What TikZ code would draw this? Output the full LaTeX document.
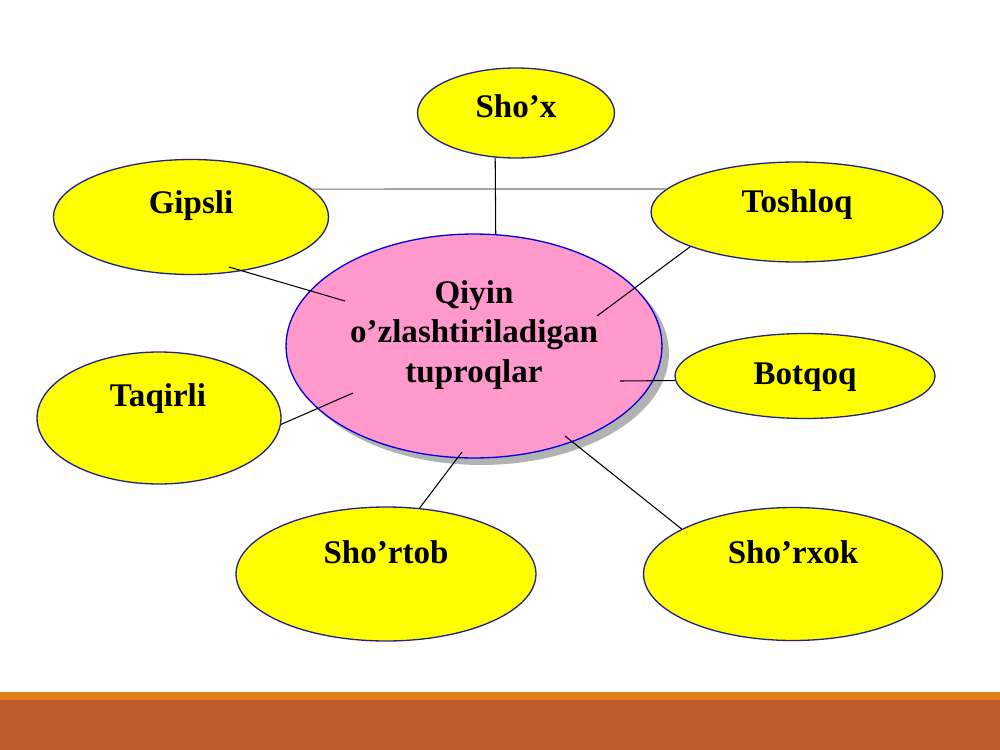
\documentclass[tikz,border=0pt]{standalone}
\usepackage{fontspec}
\setmainfont{Liberation Serif}
\usetikzlibrary{shapes.geometric,shadows}
\definecolor{soilyellow}{HTML}{FFFF00}
\definecolor{hubpink}{HTML}{FF99CC}
\definecolor{rimblue}{HTML}{22228C}
\definecolor{barorange}{HTML}{E07E1A}
\definecolor{barrust}{HTML}{BC5A2B}
\tikzset{soil/.style={ellipse,fill=soilyellow,draw=rimblue,line width=0.75pt,inner sep=0pt},
 hub/.style={ellipse,fill=hubpink,draw=blue!85!black,line width=0.75pt,inner sep=0pt,
  drop shadow={shadow xshift=.14cm,shadow yshift=-.14cm,fill=black!30,opacity=1}},
 word/.style={font=\bfseries\fontsize{18.8}{22.7}\selectfont,anchor=base,inner sep=0pt},
 link/.style={line width=0.6pt,black}}

\begin{document}
\begin{tikzpicture}[x=0.02cm,y=-0.02cm]
 \useasboundingbox (0,0) rectangle (1000,750);
 \fill[barorange] (0,692) rectangle (1000,700);
 \fill[barrust] (0,700) rectangle (1000,750);
 % centre and the seven soils
 \node[hub,minimum width=7.52cm,minimum height=4.48cm] (tuproq) at (474,346) {};
 \node[soil,minimum width=3.94cm,minimum height=1.8cm] (shox) at (516,113) {};
 \node[soil,minimum width=5.5cm,minimum height=2.3cm] (gipsli) at (191,217) {};
 \node[soil,minimum width=5.84cm,minimum height=2cm] (toshloq) at (797,212) {};
 \node[soil,minimum width=5.2cm,minimum height=1.7cm] (botqoq) at (805,376) {};
 \node[soil,minimum width=4.88cm,minimum height=2.64cm] (taqirli) at (159,418) {};
 \node[soil,minimum width=6cm,minimum height=2.68cm] (shortob) at (386,574) {};
 \node[soil,minimum width=5.98cm,minimum height=2.66cm] (shorxok) at (793,574) {};
 \node[word,anchor=center,align=center] (tuproq-t) at (474,335) {Qiyin\\o’zlashtiriladigan\\tuproqlar};
 \node[word] (shox-t) at (516,117) {Sho’x};
 \node[word] (gipsli-t) at (191,213) {Gipsli};
 \node[word] (toshloq-t) at (797,212) {Toshloq};
 \node[word] (botqoq-t) at (805,384) {Botqoq};
 \node[word] (taqirli-t) at (158,406) {Taqirli};
 \node[word] (shortob-t) at (386,563) {Sho’rtob};
 \node[word] (shorxok-t) at (793,563) {Sho’rxok};
 % line ends inside the ellipses
 \coordinate (gipsli-in) at (229,267);
 \coordinate (hub-g) at (345,301);
 \coordinate (hub-t) at (597,316);
 \coordinate (hub-b) at (620,381);
 \coordinate (hub-q) at (353,393);
 \coordinate (hub-r) at (462,452);
 \coordinate (hub-x) at (565,436);
 \draw[line width=0.6pt,black!55] (gipsli.13) -- (toshloq.170);
 \draw[link] (shox.-115) -- (tuproq.79);
 \draw[link] (gipsli-in) -- (hub-g);
 \draw[link] (toshloq.198) -- (hub-t);
 \draw[link] (botqoq.182) -- (hub-b);
 \draw[link] (taqirli.-3) -- (hub-q);
 \draw[link] (shortob.63) -- (hub-r);
 \draw[link] (shorxok.158) -- (hub-x);
\end{tikzpicture}
\end{document}
